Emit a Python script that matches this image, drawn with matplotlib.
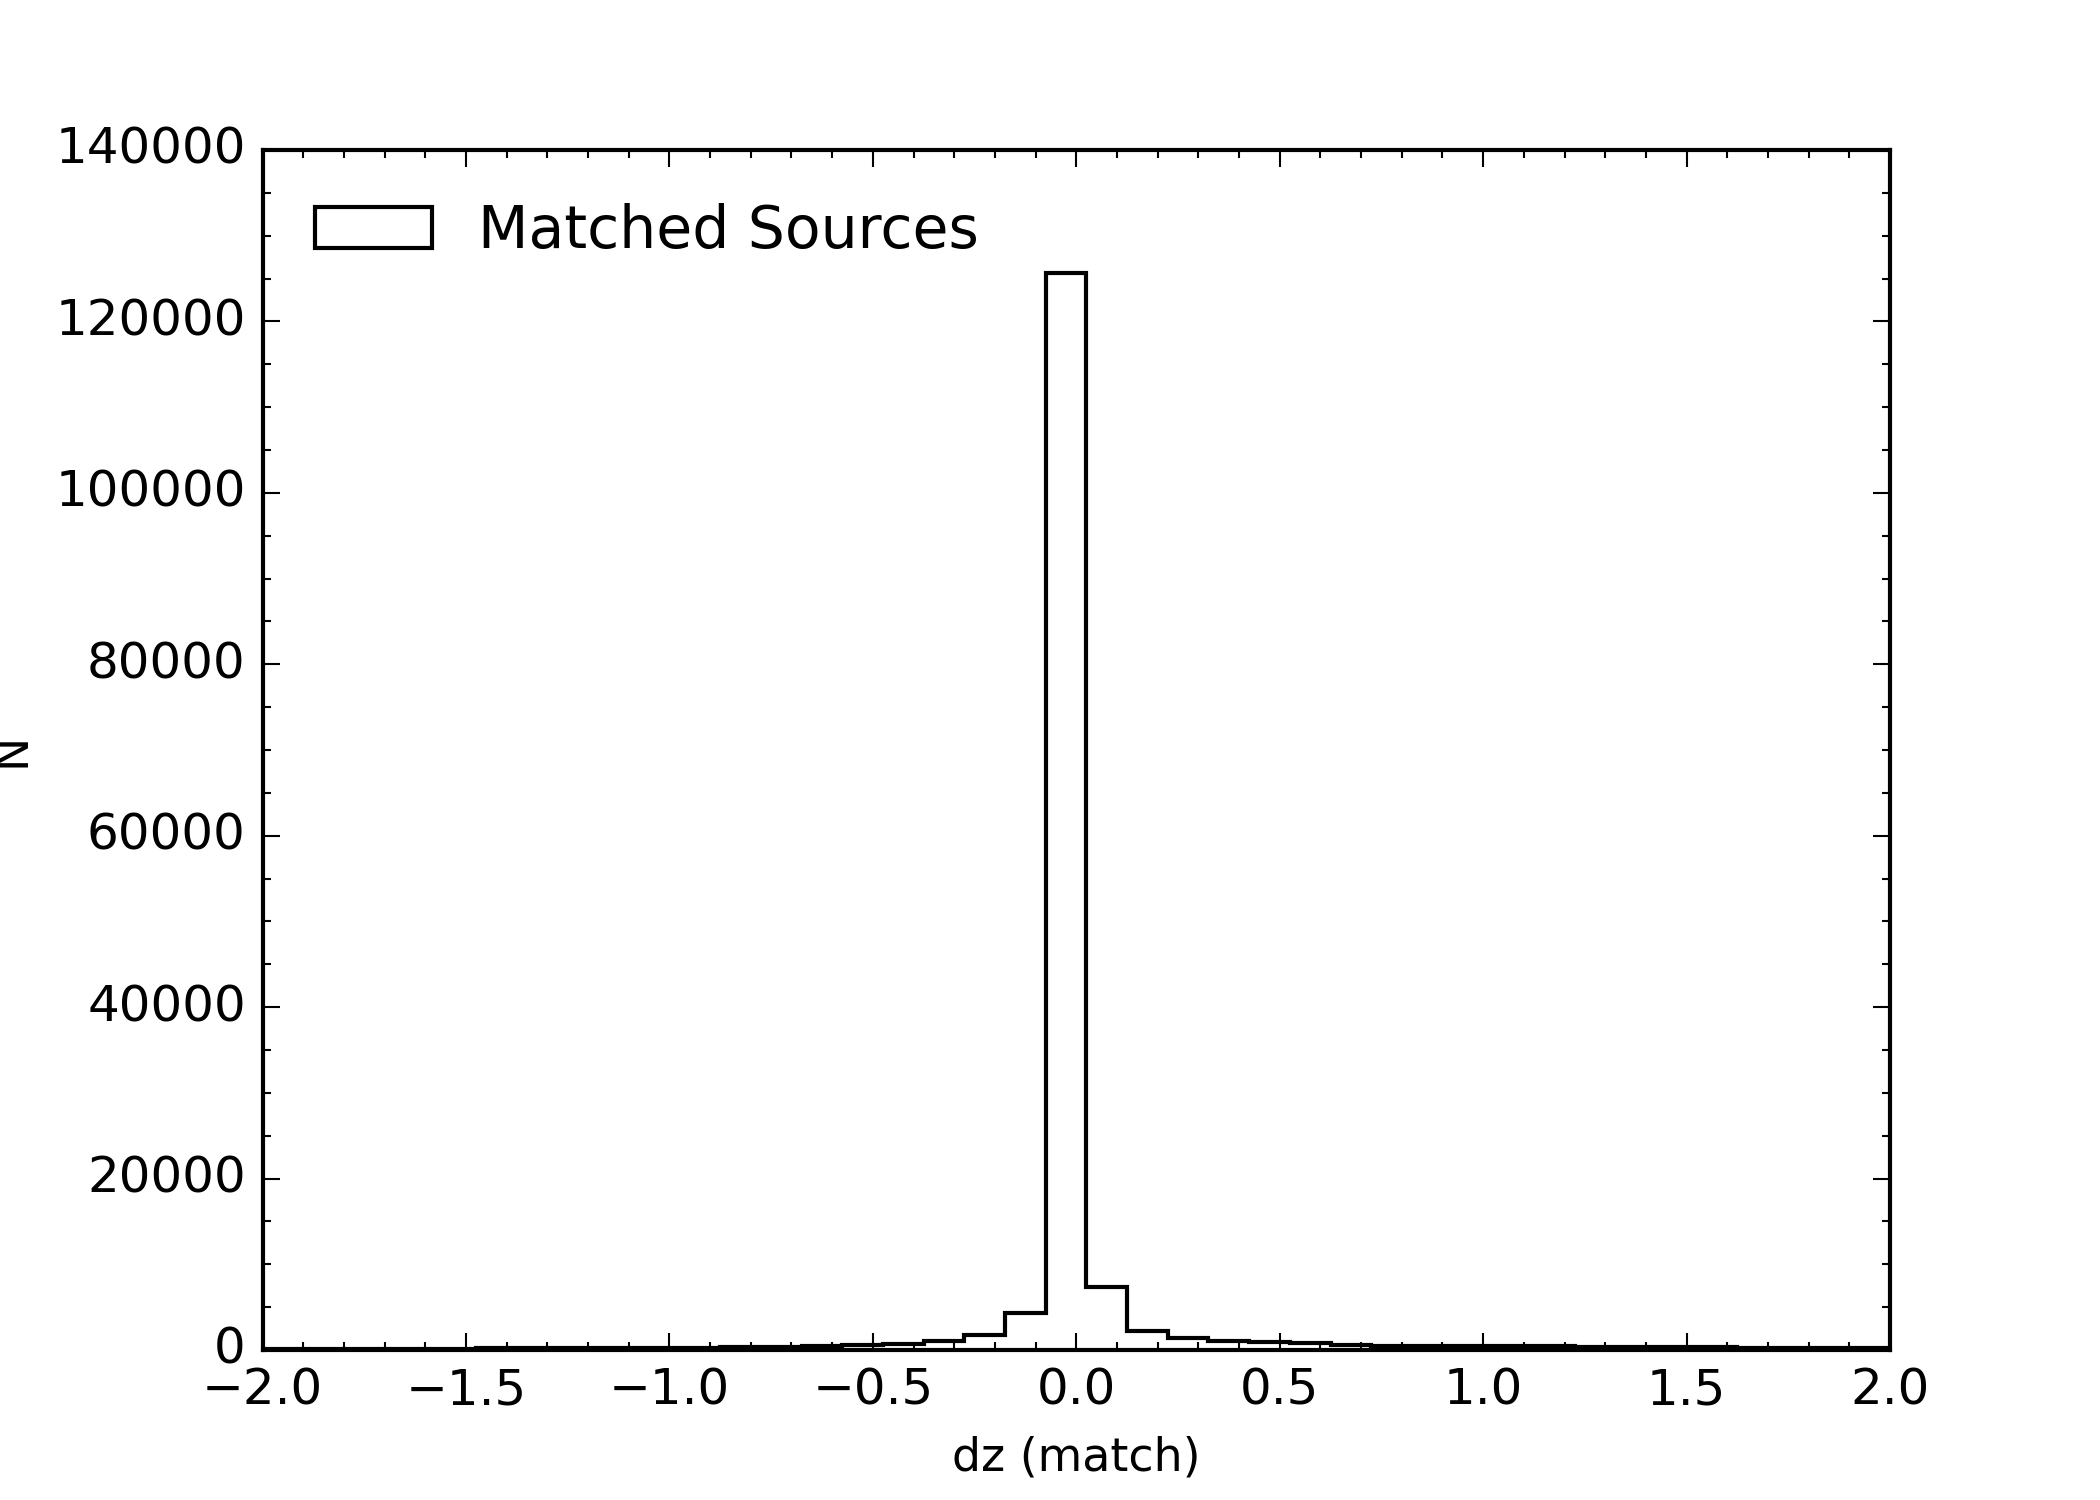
import numpy as np
import matplotlib
matplotlib.use("Agg")
import matplotlib.pyplot as plt

plt.style.use("classic")

# bin edges of the dz histogram (width 0.1)
bin_edges = np.round(np.arange(-2.075, 2.13, 0.1), 3)

# counts per bin, left to right
counts = [60, 70, 80, 150, 160, 170, 180, 190, 200, 220,
          240, 270, 300, 340, 430, 550, 740, 1010, 1800, 4350,
          125700, 7350, 2200, 1380, 1100, 900, 800, 620, 520, 480,
          460, 440, 420, 400, 370, 340, 300, 270, 240, 220,
          200, 180]

centers = (bin_edges[:-1] + bin_edges[1:]) / 2

fig, ax = plt.subplots(figsize=(7, 5))
ax.hist(centers, bins=bin_edges, weights=counts, histtype="step",
        color="k", label="Matched Sources")
ax.set_xlim(-2.0, 2.0)
ax.set_ylim(0, 140000)
ax.minorticks_on()
ax.set_xlabel("dz (match)", fontsize=11)
ax.set_ylabel("N", fontsize=11)
ax.legend(loc="upper left", frameon=False, fontsize=14)

plt.savefig("out.png", dpi=300)
